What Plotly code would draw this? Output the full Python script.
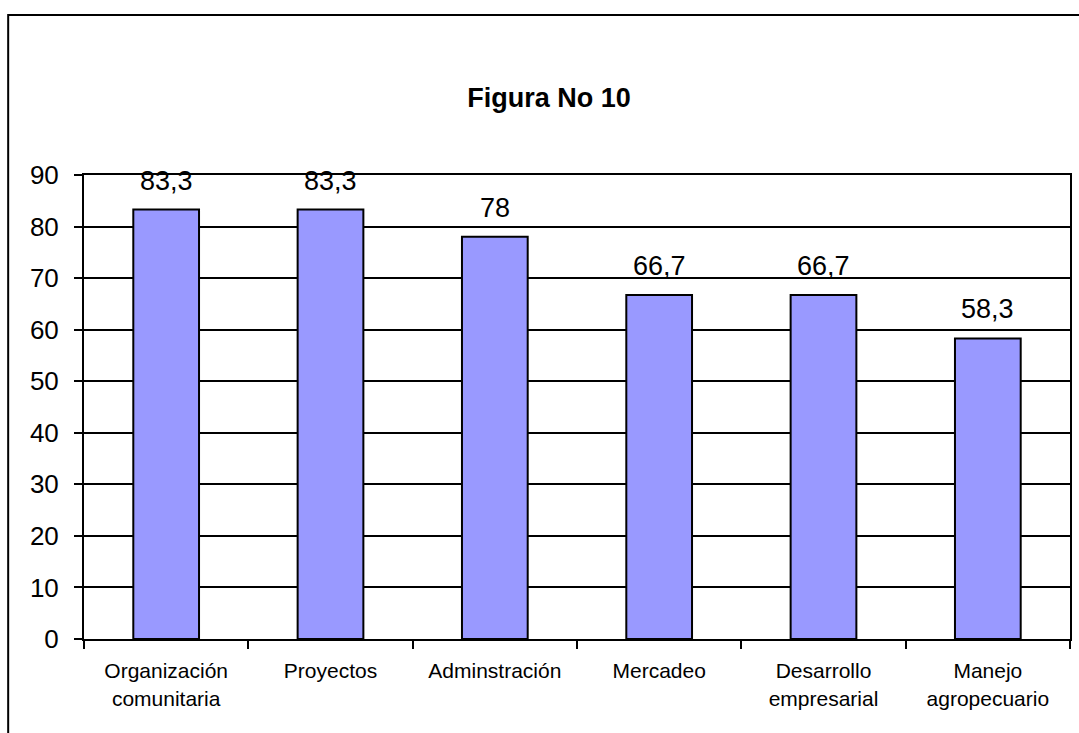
import plotly.graph_objects as go

# Datos de la figura
categorias = [
    "Organización<br>comunitaria",
    "Proyectos",
    "Adminstración",
    "Mercadeo",
    "Desarrollo<br>empresarial",
    "Manejo<br>agropecuario",
]
valores = [83.3, 83.3, 78, 66.7, 66.7, 58.3]
etiquetas = ["83,3", "83,3", "78", "66,7", "66,7", "58,3"]
ticks_y = [0, 10, 20, 30, 40, 50, 60, 70, 80, 90]

FUENTE = "Arial, Liberation Sans, sans-serif"

fig = go.Figure(
    go.Bar(
        x=categorias,
        y=valores,
        marker=dict(color="#9999FF", line=dict(color="black", width=2)),
        hoverinfo="skip",
    )
)

# Etiquetas de valor encima de cada barra
for c, v, t in zip(categorias, valores, etiquetas):
    fig.add_annotation(
        x=c, y=v, text=t, showarrow=False,
        yanchor="bottom", yshift=12,
        font=dict(family=FUENTE, size=27, color="black"),
    )

# Marco exterior del gráfico
fig.add_shape(
    type="rect", xref="paper", yref="paper",
    x0=-0.0769, x1=1.05, y0=-0.3, y1=1.3448,
    line=dict(color="black", width=2), fillcolor="rgba(0,0,0,0)",
    layer="above",
)

fig.update_layout(
    width=1079, height=733,
    margin=dict(l=84, r=7, t=175, b=94),
    paper_bgcolor="white", plot_bgcolor="white",
    bargap=0.6,
    showlegend=False,
    title=dict(
        text="<b>Figura No 10</b>",
        font=dict(family=FUENTE, size=27, color="black"),
        xref="container", x=0.5088, xanchor="center",
        yref="container", y=1 - 97.5 / 733, yanchor="middle",
    ),
    font=dict(family=FUENTE, color="black"),
)

fig.update_xaxes(
    type="category",
    showline=True, linecolor="black", linewidth=2, mirror=True,
    ticks="outside", tickson="boundaries", ticklen=8, tickwidth=2, tickcolor="black",
    showgrid=False,
    ticklabelstandoff=12,
    tickfont=dict(family=FUENTE, size=21, color="black"),
)

fig.update_yaxes(
    range=[0, 90],
    tickvals=ticks_y,
    showline=True, linecolor="black", linewidth=2, mirror=True,
    ticks="outside", ticklen=8, tickwidth=2, tickcolor="black",
    showgrid=True, gridcolor="black", gridwidth=2,
    zeroline=False,
    ticklabelstandoff=10,
    tickfont=dict(family=FUENTE, size=26, color="black"),
)

fig.write_html("out.html")
